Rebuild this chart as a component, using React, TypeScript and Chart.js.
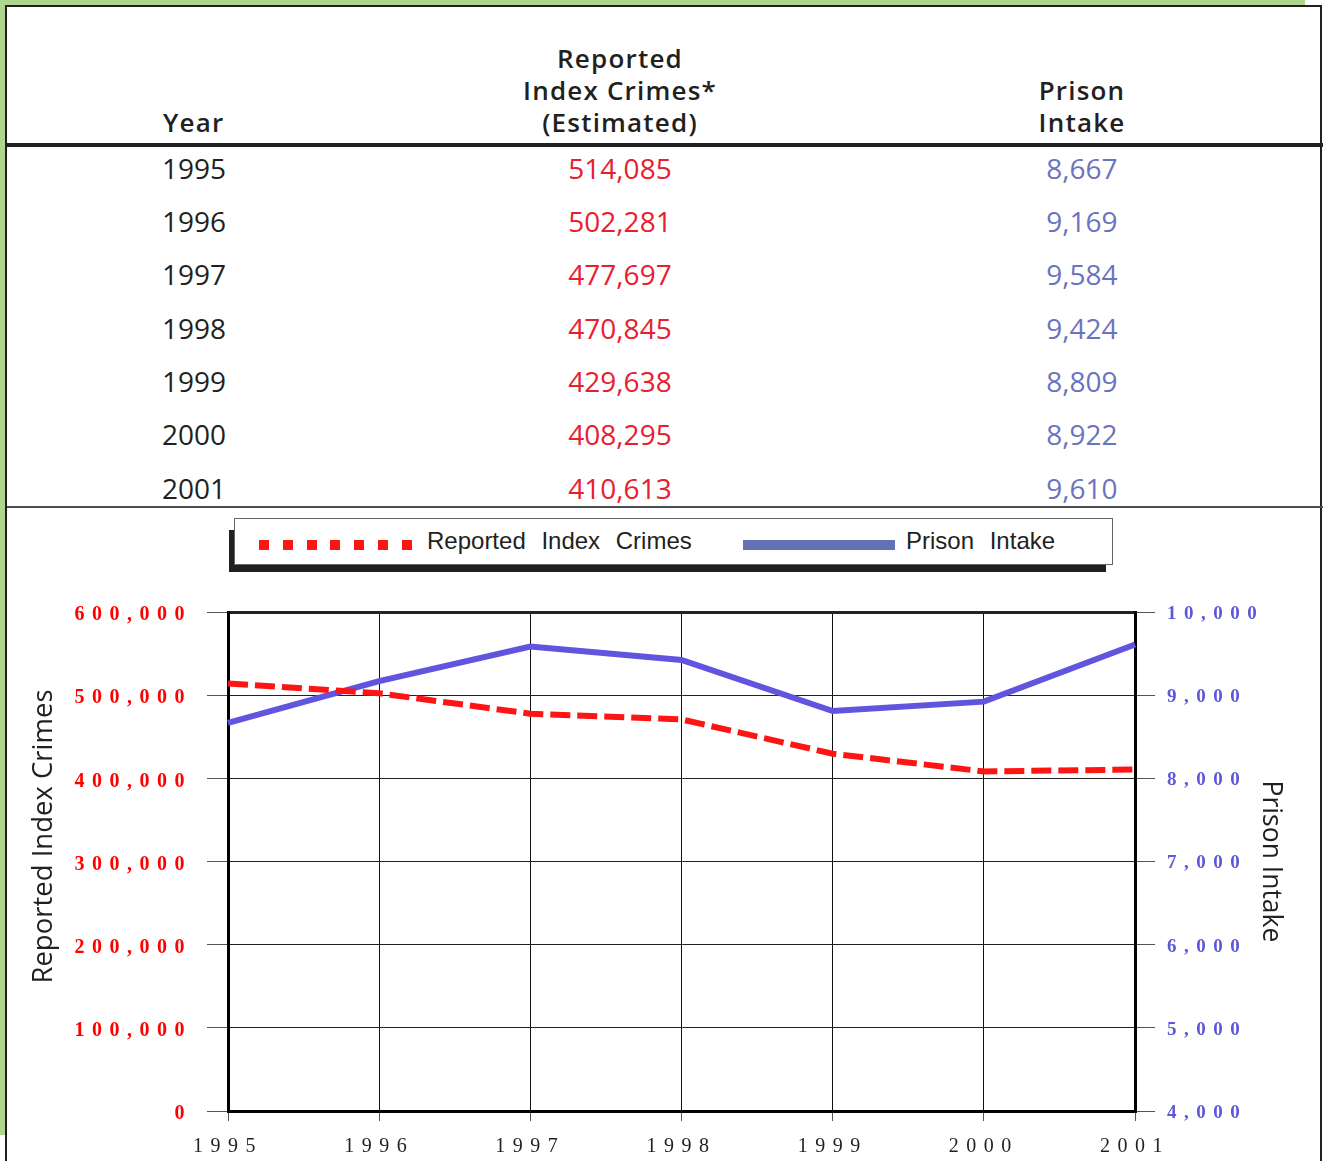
import React, { useEffect, useRef } from 'react';
import { Chart, registerables } from 'chart.js';

Chart.register(...registerables);

// ---- data ----
const years = ['1995', '1996', '1997', '1998', '1999', '2000', '2001'];
const reportedCrimes = [514085, 502281, 477697, 470845, 429638, 408295, 410613];
const prisonIntake = [8667, 9169, 9584, 9424, 8809, 8922, 9610];
const seriesLabels = ['Reported Index Crimes', 'Prison Intake'];
const axisTitles = ['Reported Index Crimes', 'Prison Intake'];
const crimeAxisRange = [0, 600000, 100000];
const intakeAxisRange = [4000, 10000, 1000];
const headerYear = ['Year'];
const headerCrimes = ['Reported', 'Index Crimes*', '(Estimated)'];
const headerIntake = ['Prison', 'Intake'];

// ---- styles ----
const INK = '#231f20';
const GREEN = '#aed68c';
const RED_LINE = '#ff1414';
const BLUE_LINE = '#5f55de';
const RED_TEXT = '#e8202e';
const BLUE_TEXT = '#6a73c0';
const RED_TICK = '#ff0000';
const BLUE_TICK = '#5d57da';
const LEGEND_BLUE = '#6470b8';

const fmt = (v: number) => Number(v).toLocaleString('en-US');

const spacingPlugin = {
  id: 'tickSpacing',
  beforeDraw(chart: any) {
    chart.ctx.letterSpacing = '0px';
  },
  afterDatasetsDraw(chart: any) {
    chart.ctx.letterSpacing = '7.5px';
  },
  afterDraw(chart: any) {
    chart.ctx.letterSpacing = '0px';
  },
};

export default function App() {
  const canvasRef = useRef<HTMLCanvasElement>(null);

  useEffect(() => {
    const canvas = canvasRef.current;
    if (!canvas) return;
    const chart = new Chart(canvas, {
      type: 'line',
      data: {
        labels: years,
        datasets: [
          {
            label: seriesLabels[0],
            data: reportedCrimes,
            yAxisID: 'y',
            borderColor: RED_LINE,
            backgroundColor: RED_LINE,
            borderWidth: 6,
            borderDash: [20, 7],
            borderCapStyle: 'butt',
            pointRadius: 0,
            tension: 0,
            fill: false,
          },
          {
            label: seriesLabels[1],
            data: prisonIntake,
            yAxisID: 'y1',
            borderColor: BLUE_LINE,
            backgroundColor: BLUE_LINE,
            borderWidth: 6,
            pointRadius: 0,
            tension: 0,
            fill: false,
          },
        ],
      },
      options: {
        responsive: false,
        animation: false,
        devicePixelRatio: 1,
        layout: { padding: { top: 27, left: 0, right: 0, bottom: 0 } },
        plugins: {
          legend: { display: false },
          tooltip: { enabled: false },
        },
        scales: {
          x: {
            type: 'category',
            offset: false,
            grid: {
              color: '#111',
              lineWidth: (c: any) => (c.index === 0 || c.index === years.length - 1 ? 3 : 1),
              tickLength: 10,
              tickColor: '#555',
              tickWidth: 1,
            },
            border: { color: '#000', width: 3 },
            ticks: {
              z: 1,
              color: INK,
              font: { family: '"Liberation Serif", serif', size: 20 },
              padding: 14,
              maxRotation: 0,
              autoSkip: false,
            },
            afterFit: (s: any) => {
              s.height = 50;
            },
          },
          y: {
            position: 'left',
            min: crimeAxisRange[0],
            max: crimeAxisRange[1],
            grid: {
              color: '#222',
              lineWidth: (c: any) => (c.tick && c.tick.value === crimeAxisRange[1] ? 3 : 1),
              tickLength: 21,
              tickColor: '#555',
              tickWidth: 1,
            },
            border: { color: '#000', width: 3 },
            ticks: {
              z: 1,
              stepSize: crimeAxisRange[2],
              color: RED_TICK,
              font: { family: '"Liberation Serif", serif', size: 20, weight: 'bold' },
              padding: 15,
              labelOffset: 3,
              callback: (v: any) => fmt(v),
            },
            title: {
              display: true,
              text: ' '.repeat(7) + axisTitles[0],
              color: INK,
              font: { family: '"Open Sans", sans-serif', size: 27.5 },
              padding: { top: 21, bottom: 0 },
            },
            afterFit: (s: any) => {
              s.width = 221;
            },
          },
          y1: {
            position: 'right',
            min: intakeAxisRange[0],
            max: intakeAxisRange[1],
            grid: {
              drawOnChartArea: false,
              tickLength: 20,
              tickColor: '#555',
              tickWidth: 1,
            },
            border: { color: '#000', width: 3 },
            ticks: {
              z: 1,
              stepSize: intakeAxisRange[2],
              color: BLUE_TICK,
              font: { family: '"Liberation Serif", serif', size: 19, weight: 'bold' },
              padding: 12,
              labelOffset: 2,
              callback: (v: any) => fmt(v),
            },
            title: {
              display: true,
              text: axisTitles[1],
              color: INK,
              font: { family: '"Open Sans", sans-serif', size: 26.5 },
              padding: { top: 34, bottom: 0 },
            },
            afterFit: (s: any) => {
              s.width = 185;
            },
          },
        },
      } as any,
      plugins: [spacingPlugin as any],
    });
    return () => chart.destroy();
  }, []);

  const rowCenter = (i: number) => 167.5 + i * 53.35;
  const cellBase: React.CSSProperties = {
    position: 'absolute',
    height: 40,
    lineHeight: '40px',
    fontSize: 28,
    fontWeight: 400,
    whiteSpace: 'nowrap',
  };
  const headBase: React.CSSProperties = {
    position: 'absolute',
    lineHeight: '32px',
    fontSize: 26,
    fontWeight: 600,
    letterSpacing: '1.2px',
    color: INK,
    whiteSpace: 'nowrap',
  };
  const legendText: React.CSSProperties = {
    position: 'absolute',
    top: 526,
    height: 30,
    lineHeight: '30px',
    fontFamily: '"Liberation Sans", Arial, sans-serif',
    fontSize: 24,
    wordSpacing: 9,
    color: INK,
    whiteSpace: 'nowrap',
  };

  return (
    <div
      style={{
        position: 'absolute',
        left: 0,
        top: 0,
        width: 1323,
        height: 1161,
        background: '#fff',
        overflow: 'hidden',
        fontFamily: '"Open Sans", sans-serif',
      }}
    >
      {/* green frame */}
      <div style={{ position: 'absolute', left: 0, top: 0, width: 1305, height: 8, background: GREEN }} />
      <div style={{ position: 'absolute', left: 0, top: 0, width: 8, height: 1135, background: GREEN }} />
      {/* panel */}
      <div
        style={{
          position: 'absolute',
          left: 5,
          top: 5,
          width: 1313,
          height: 1200,
          background: '#fff',
          borderLeft: `2px solid ${INK}`,
          borderTop: `2px solid ${INK}`,
          borderRight: `2px solid ${INK}`,
        }}
      />

      {/* table header */}
      <div style={{ ...headBase, left: 163, top: 106 }}>{headerYear[0]}</div>
      <div style={{ ...headBase, left: 420, width: 400, top: 42, textAlign: 'center' }}>
        {headerCrimes.map((t, i) => (
          <div key={i}>{t}</div>
        ))}
      </div>
      <div style={{ ...headBase, left: 982, width: 200, top: 74, textAlign: 'center' }}>
        {headerIntake.map((t, i) => (
          <div key={i}>{t}</div>
        ))}
      </div>
      <div style={{ position: 'absolute', left: 7, top: 143, width: 1316, height: 4, background: INK }} />

      {/* table rows */}
      {years.map((y, i) => (
        <React.Fragment key={y}>
          <div style={{ ...cellBase, left: 162, top: rowCenter(i) - 20, color: INK }}>{y}</div>
          <div style={{ ...cellBase, left: 470, width: 300, textAlign: 'center', top: rowCenter(i) - 20, color: RED_TEXT }}>
            {fmt(reportedCrimes[i])}
          </div>
          <div style={{ ...cellBase, left: 982, width: 200, textAlign: 'center', top: rowCenter(i) - 20, color: BLUE_TEXT }}>
            {fmt(prisonIntake[i])}
          </div>
        </React.Fragment>
      ))}
      <div style={{ position: 'absolute', left: 7, top: 506, width: 1316, height: 2, background: '#4d4d4d' }} />

      {/* legend */}
      <div style={{ position: 'absolute', left: 229, top: 530, width: 877, height: 42, background: INK }} />
      <div
        style={{
          position: 'absolute',
          left: 234,
          top: 518,
          width: 877,
          height: 45,
          background: '#fff',
          border: '1px solid #666',
        }}
      />
      <div
        style={{
          position: 'absolute',
          left: 259,
          top: 540,
          width: 154,
          height: 10,
          background: `repeating-linear-gradient(to right, ${RED_LINE} 0px, ${RED_LINE} 10px, transparent 10px, transparent 23.8px)`,
        }}
      />
      <div style={{ ...legendText, left: 427 }}>{seriesLabels[0]}</div>
      <div style={{ position: 'absolute', left: 743, top: 540, width: 152, height: 10, background: LEGEND_BLUE }} />
      <div style={{ ...legendText, left: 906 }}>{seriesLabels[1]}</div>

      {/* chart */}
      <canvas
        ref={canvasRef}
        width={1313}
        height={576}
        style={{ position: 'absolute', left: 7, top: 585, width: 1313, height: 576 }}
      />
    </div>
  );
}
